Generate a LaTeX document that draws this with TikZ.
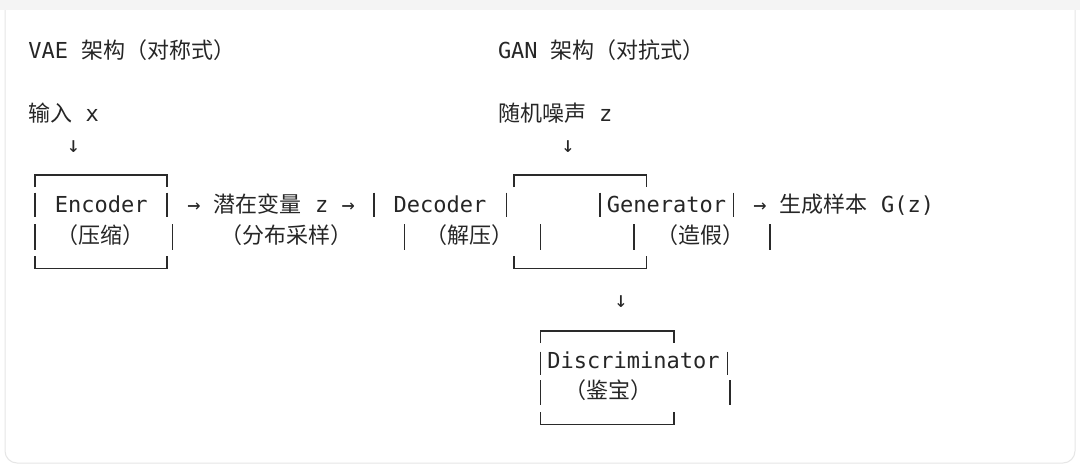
\documentclass[tikz,border=0pt]{standalone}
\usepackage{fontspec}
\setmainfont{DejaVu Sans Mono}
\newfontfamily\cjk[RawFeature=+halt]{Noto Sans CJK SC}
\newfontfamily\cjkfull{Noto Sans CJK SC}
\newcommand\C[1]{{\cjk #1}}
\newcommand\CF[1]{{\cjkfull #1}}
\definecolor{txt}{HTML}{262626}
\definecolor{boxc}{HTML}{2A2A2A}
\definecolor{band}{HTML}{F4F4F4}
\definecolor{cardline}{HTML}{E6E6E6}
\begin{document}
\begin{tikzpicture}[x=1pt,y=-1pt,
  lbl/.style={inner sep=0pt, outer sep=0pt, anchor=base west, font=\fontsize{22}{26}\selectfont, text=txt},
  arr/.style={inner sep=0pt, outer sep=0pt, anchor=base, font=\fontsize{22}{26}\selectfont, text=txt},
  boxline/.style={draw=boxc, line width=1.4pt}]
\useasboundingbox (0,0) rectangle (1080,469);
\fill[white] (0,0) rectangle (1080,469);
\fill[band] (0,0) rectangle (1080,10);
\draw[cardline, line width=1pt, rounded corners=12pt] (5,10) -- (5,463) -- (1075,463) -- (1075,10);

% titles and inputs
\node[lbl] (t1) at (28.4,58.5) {VAE \CF{架构（对称式）}};
\node[lbl] (t2) at (498,58.5) {GAN \CF{架构（对抗式）}};
\node[lbl] (in1) at (28.4,121) {\C{输入} x};
\node[lbl] (in2) at (498,121) {\C{随机噪声} z};
\node[arr] (a1) at (73.5,152) {↓};
\node[arr] (a2) at (568,152) {↓};
\node[arr] (a3) at (621,307) {↓};

% row 1
\node[lbl] (enc) at (54.8,212) {Encoder};
\node[lbl] (mid) at (187.3,212) {→ \C{潜在变量} z →};
\node[lbl] (dec) at (393.6,212) {Decoder};
\node[lbl] (gen) at (606.8,212) {Generator};
\node[lbl] (out) at (753.4,212) {→ \C{生成样本} G(z)};
% row 2
\node[lbl] (p1) at (67.5,243) {\C{（压缩）}};
\node[lbl] (p2) at (231,243) {\C{（分布采样）}};
\node[lbl] (p3) at (436.5,243) {\C{（解压）}};
\node[lbl] (p4) at (667.5,243) {\C{（造假）}};
% discriminator
\node[lbl] (dis) at (547.4,368.5) {Discriminator};
\node[lbl] (p5) at (575.8,398.5) {\C{（鉴宝）}};

% Encoder box
\draw[boxline] (35,187) -- (35,175) -- (167,175) -- (167,187);
\draw[boxline] (35,192.5) -- (35,216.5);
\draw[boxline] (167,192.5) -- (167,216.5);
\draw[boxline] (35,224) -- (35,249.5);
\draw[boxline] (172.3,224) -- (172.3,249.5);
\draw[boxline] (35,256) -- (35,268.3) -- (167,268.3) -- (167,256);
% Decoder bars
\draw[boxline] (374,192.5) -- (374,216.5);
\draw[boxline] (506.7,192.5) -- (506.7,216.5);
\draw[boxline] (404.3,224) -- (404.3,249.5);
% Generator box
\draw[boxline] (514,187) -- (514,175) -- (646.7,175) -- (646.7,187);
\draw[boxline] (600,192.5) -- (600,216.5);
\draw[boxline] (733.3,192.5) -- (733.3,216.5);
\draw[boxline] (540.7,224) -- (540.7,249.5);
\draw[boxline] (634,224) -- (634,249.5);
\draw[boxline] (770,224) -- (770,249.5);
\draw[boxline] (514,256) -- (514,268.3) -- (646.7,268.3) -- (646.7,256);
% Discriminator box
\draw[boxline] (540.7,343) -- (540.7,330.8) -- (674,330.8) -- (674,343);
\draw[boxline] (540.7,351.7) -- (540.7,375);
\draw[boxline] (727.5,351.7) -- (727.5,375);
\draw[boxline] (540.7,380) -- (540.7,405);
\draw[boxline] (730,380) -- (730,405);
\draw[boxline] (540.7,412) -- (540.7,424.5) -- (674,424.5) -- (674,412);
\end{tikzpicture}
\end{document}
